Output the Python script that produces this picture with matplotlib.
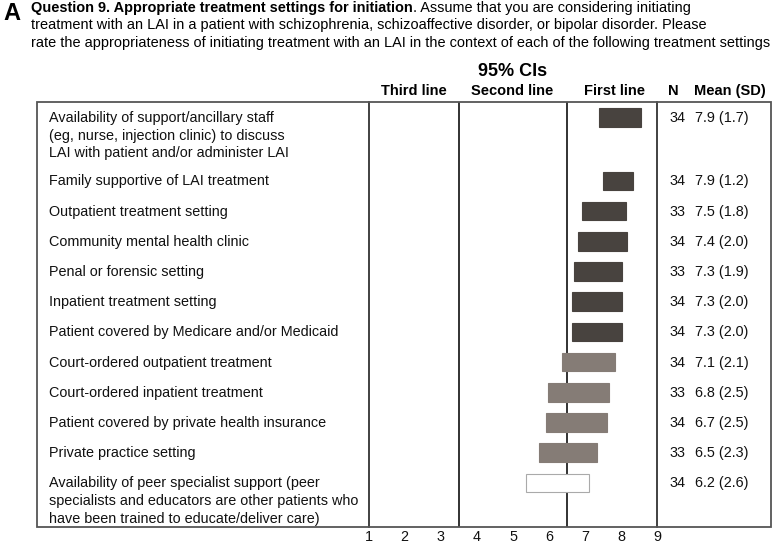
import matplotlib
matplotlib.use("Agg")
import matplotlib.pyplot as plt
from matplotlib.patches import Rectangle
from matplotlib.transforms import blended_transform_factory, Affine2D

labels = [
    "Availability of support/ancillary staff\n(eg, nurse, injection clinic) to discuss\nLAI with patient and/or administer LAI",
    "Family supportive of LAI treatment",
    "Outpatient treatment setting",
    "Community mental health clinic",
    "Penal or forensic setting",
    "Inpatient treatment setting",
    "Patient covered by Medicare and/or Medicaid",
    "Court-ordered outpatient treatment",
    "Court-ordered inpatient treatment",
    "Patient covered by private health insurance",
    "Private practice setting",
    "Availability of peer specialist support (peer\nspecialists and educators are other patients who\nhave been trained to educate/deliver care)",
]
n_vals = [34, 34, 33, 34, 33, 34, 34, 34, 33, 34, 33, 34]
means = [7.9, 7.9, 7.5, 7.4, 7.3, 7.3, 7.3, 7.1, 6.8, 6.7, 6.5, 6.2]
sds = [1.7, 1.2, 1.8, 2.0, 1.9, 2.0, 2.0, 2.1, 2.5, 2.5, 2.3, 2.6]
ci_low = [7.39, 7.50, 6.90, 6.79, 6.70, 6.63, 6.63, 6.37, 5.97, 5.91, 5.72, 5.36]
ci_high = [8.54, 8.33, 8.13, 8.16, 8.02, 8.02, 8.02, 7.81, 7.67, 7.60, 7.32, 7.11]
tick_vals = [1, 2, 3, 4, 5, 6, 7, 8, 9]
tier_bounds = [3.5, 6.5]
headers = ["Third line", "Second line", "First line"]
title_bold = "Question 9. Appropriate treatment settings for initiation"
title_rest = [
    ". Assume that you are considering initiating",
    "treatment with an LAI in a patient with schizophrenia, schizoaffective disorder, or bipolar disorder. Please",
    "rate the appropriateness of initiating treatment with an LAI in the context of each of the following treatment settings",
]

W, H = 772, 546
fig = plt.figure(figsize=(W / 100, H / 100), dpi=100)
plt.rcParams["font.family"] = ["Liberation Sans", "DejaVu Sans"]
FS = 10.4

pix = Affine2D().scale(1 / W, -1 / H).translate(0, 1) + fig.transFigure

box_l, box_r, box_t, box_b = 37, 771, 101.7, 527
x1px, x9px = 368.5, 657.5

ax = fig.add_axes([x1px / W, 1 - box_b / H, (x9px - x1px) / W, (box_b - box_t) / H])
ax.set_xlim(1, 9)
ax.set_ylim(box_b, box_t)

row_y = []
y = 117.7
for lab in labels:
    row_y.append(y)
    y += 30.2 + 16.5 * lab.count("\n")

dark, mid = "#48433f", "#857c76"
for yy, lo, hi, m in zip(row_y, ci_low, ci_high, means):
    if lo >= tier_bounds[1]:
        fc, ec = dark, dark
    elif m >= tier_bounds[1]:
        fc, ec = mid, mid
    else:
        fc, ec = "white", "#aaaaaa"
    ax.barh(yy, hi - lo, left=lo, height=18.5, color=fc, edgecolor=ec, linewidth=0.8, zorder=3)

for xv in tier_bounds:
    ax.axvline(xv, color="#222222", linewidth=1.3, zorder=2)

for s in ["top", "bottom"]:
    ax.spines[s].set_visible(False)
for s in ["left", "right"]:
    ax.spines[s].set_color("#333333")
    ax.spines[s].set_linewidth(1.3)
ax.set_yticks([])
ax.set_xticks(tick_vals)
ax.set_xticklabels([str(t) for t in tick_vals], fontsize=FS)
ax.tick_params(axis="x", length=0, pad=2.5, colors="#111111")
ax.patch.set_alpha(0)

fig.patches.append(Rectangle((box_l, box_b), box_r - box_l, box_t - box_b,
                             transform=pix, fill=False, edgecolor="#555555",
                             linewidth=1.3))

tr = blended_transform_factory(pix, ax.transData)
for yy, lab, nv, m, sd in zip(row_y, labels, n_vals, means, sds):
    fig.text(49, yy - 6.5, lab, transform=tr, fontsize=FS, va="top", ha="left",
             linespacing=1.33, color="#111111")
    fig.text(670, yy + 0.5, str(nv), transform=tr, fontsize=FS, va="center", ha="left", color="#111111")
    fig.text(695, yy + 0.5, f"{m:.1f} ({sd:.1f})", transform=tr, fontsize=FS, va="center", ha="left", color="#111111")

hx = [414, 512, 614]
for x, h in zip(hx, headers):
    fig.text(x, 91, h, transform=pix, fontsize=10.5, fontweight="bold", ha="center", va="center")
fig.text(673.5, 91, "N", transform=pix, fontsize=10.5, fontweight="bold", ha="center", va="center")
fig.text(730, 91, "Mean (SD)", transform=pix, fontsize=10.5, fontweight="bold", ha="center", va="center")
fig.text(513, 71, "95% CIs", transform=pix, fontsize=13, fontweight="bold", ha="center", va="center")

fig.text(3, 13, "A", transform=pix, fontsize=17, fontweight="bold", ha="left", va="center")

probe = fig.text(0, 0, title_rest[2], fontsize=11, transform=pix)
fig.canvas.draw()
w11 = probe.get_window_extent().width
probe.remove()
tfs = 11 * (763 - 31) / w11

t1 = fig.text(31, 8, title_bold, transform=pix, fontsize=tfs, fontweight="bold", ha="left", va="center")
fig.canvas.draw()
bb = t1.get_window_extent()
fig.text(31 + bb.width, 8, title_rest[0], transform=pix, fontsize=tfs, ha="left", va="center")
fig.text(31, 25.5, title_rest[1], transform=pix, fontsize=tfs, ha="left", va="center")
fig.text(31, 42.5, title_rest[2], transform=pix, fontsize=tfs, ha="left", va="center")

fig.savefig("out.png", dpi=100)
